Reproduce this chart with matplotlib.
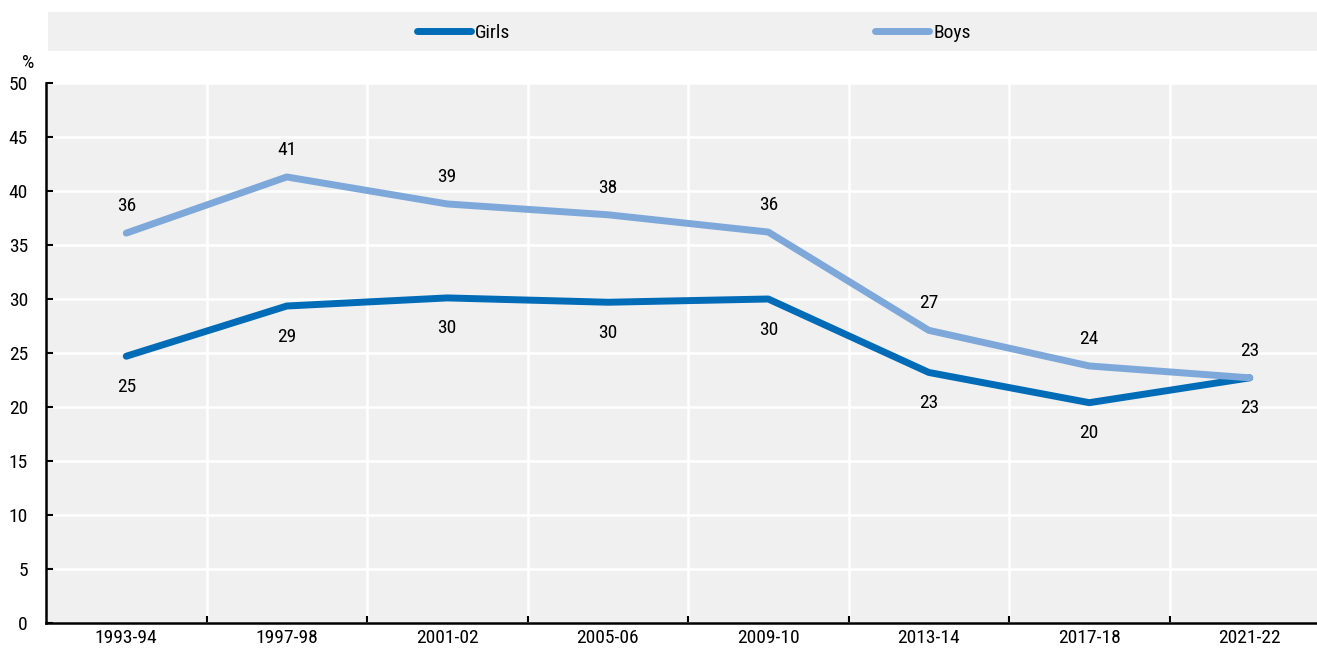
import matplotlib
matplotlib.use("Agg")
import matplotlib.pyplot as plt
from matplotlib.patches import Rectangle
import numpy as np

plt.rcParams["font.family"] = ["Roboto Condensed", "Liberation Sans", "DejaVu Sans"]
plt.rcParams["font.size"] = 14

periods = ["1993-94", "1997-98", "2001-02", "2005-06", "2009-10", "2013-14", "2017-18", "2021-22"]
girls = [24.7, 29.35, 30.1, 29.7, 30.0, 23.2, 20.4, 22.7]
boys = [36.1, 41.3, 38.8, 37.8, 36.2, 27.1, 23.8, 22.7]
y_ticks = [0, 5, 10, 15, 20, 25, 30, 35, 40, 45, 50]

GIRLS_COLOR = "#006BB6"
BOYS_COLOR = "#7FA8DA"
PANEL = "#F0F0F0"

W, H = 1317, 649
fig = plt.figure(figsize=(W / 100, H / 100), dpi=100)
ax = fig.add_axes([46 / W, (H - 623) / H, (W - 46) / W, (623 - 83) / H])
ax.set_facecolor(PANEL)

x = np.arange(len(periods))
line_kw = dict(lw=5, solid_capstyle="round", solid_joinstyle="round")
g_line, = ax.plot(x, girls, color=GIRLS_COLOR, label="Girls", zorder=3, **line_kw)
b_line, = ax.plot(x, boys, color=BOYS_COLOR, label="Boys", zorder=4, **line_kw)

for xi, val in zip(x, girls):
    ax.annotate(f"{val:.0f}", (xi, val), xytext=(0, -22), textcoords="offset points",
                ha="center", va="center", color="black")
for xi, val in zip(x, boys):
    ax.annotate(f"{val:.0f}", (xi, val), xytext=(0, 19.5), textcoords="offset points",
                ha="center", va="center", color="black")

ax.set_xlim(-0.5, (W - 46) / 160.5 - 0.5)
ax.set_ylim(0, 50)
ax.set_yticks(y_ticks)

# labels sit at category centres, ticks and grid at the boundaries
ax.set_xticks(x)
ax.set_xticklabels(periods)
ax.set_xticks(np.arange(len(periods) - 1) + 0.5, minor=True)
ax.tick_params(axis="x", which="major", length=0, pad=4)
ax.tick_params(axis="x", which="minor", direction="in", length=5, width=1.5)
ax.tick_params(axis="y", direction="in", length=5, width=1.5, pad=13)

ax.grid(axis="y", which="major", color="white", lw=1.8)
ax.grid(axis="x", which="minor", color="white", lw=1.8)
ax.set_axisbelow(True)

for side in ("top", "right"):
    ax.spines[side].set_visible(False)
for side in ("left", "bottom"):
    ax.spines[side].set_linewidth(1.8)
    ax.spines[side].set_zorder(5)

fig.text(28 / W, 1 - 63 / H, "%", ha="center", va="center")

# legend strip across the top, one entry per series
fig.patches.append(Rectangle((48 / W, 1 - 51 / H), (W - 48) / W, 39 / H,
                             transform=fig.transFigure, facecolor=PANEL, edgecolor="none", zorder=0))
for handle, left in ((g_line, 417), (b_line, 875)):
    fig.legend(handles=[handle], loc="center left", bbox_to_anchor=(left / W, 1 - 32.5 / H),
               frameon=False, handlelength=2.8, handletextpad=0.2,
               borderaxespad=0, borderpad=0)

fig.savefig("out.png", dpi=100)
